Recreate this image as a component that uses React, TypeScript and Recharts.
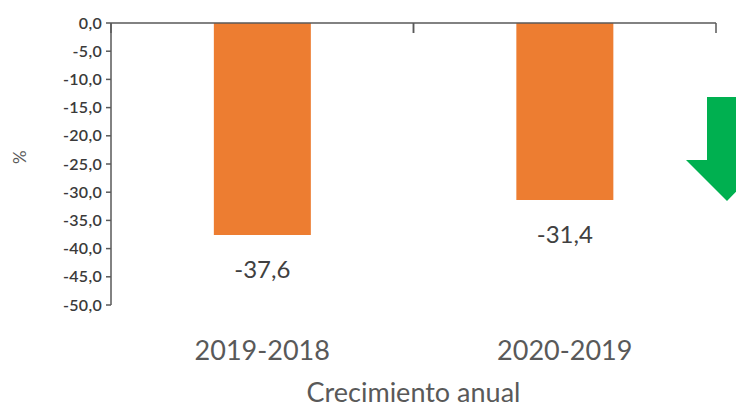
import { BarChart, Bar, XAxis, YAxis, LabelList } from "recharts";

const periods = ["2019-2018", "2020-2019"];
const growth = [-37.6, -31.4];
const yTicks = [0, -5, -10, -15, -20, -25, -30, -35, -40, -45, -50];

const data = periods.map((p, i) => ({ name: p, value: growth[i], zero: 0 }));

const fmt = (v: number) => v.toFixed(1).replace(".", ",");

const font = "Lato, 'Open Sans', sans-serif";

// tick marks at the category boundaries, pointing down from the top axis line
const TopTick = (props: any) => {
  const { x, y, payload } = props;
  const half = payload?.offset ?? 0;
  return (
    <g>
      <line x1={x - half} y1={y} x2={x - half} y2={y + 10} stroke="#595959" strokeWidth={1.5} />
      <line x1={x + half} y1={y} x2={x + half} y2={y + 10} stroke="#595959" strokeWidth={1.5} />
    </g>
  );
};

// value label under the end of each (negative) bar
const BarValue = (props: any) => {
  const { x, y, width, height, value } = props;
  const bottom = Math.max(y, y + height);
  return (
    <text x={x + width / 2} y={bottom + 37} textAnchor="middle" dominantBaseline="middle" fill="#404040" fontSize={24} fontFamily={font}>
      {fmt(Number(value))}
    </text>
  );
};

export default function App() {
  return (
    <div style={{ position: "absolute", left: 0, top: 0, width: 736, height: 416, background: "#fff", overflow: "hidden", fontFamily: font }}>
      <BarChart
        width={736}
        height={416}
        data={data}
        margin={{ top: 21, right: 20, bottom: 0, left: 0 }}
        barCategoryGap="34%"
      >
        <XAxis
          xAxisId="top"
          orientation="top"
          dataKey="name"
          height={2}
          tickSize={0}
          tickMargin={0}
          tick={<TopTick />}
          axisLine={{ stroke: "#595959", strokeWidth: 1.5 }}
          tickLine={false}
        />
        <XAxis
          xAxisId="cat"
          dataKey="name"
          height={111}
          axisLine={false}
          tickLine={false}
          tickMargin={30}
          tick={{ fill: "#595959", fontSize: 27, fontFamily: font }}
          label={{ value: "Crecimiento anual", position: "insideBottom", offset: 14, fill: "#595959", fontSize: 27, fontFamily: font }}
        />
        <YAxis
          domain={[-50, 0]}
          ticks={yTicks}
          interval={0}
          width={111}
          tickFormatter={fmt}
          tick={{ fill: "#3a3a3a", fontSize: 16, fontWeight: 600, fontFamily: font, letterSpacing: 0.3 }}
          tickSize={5}
          tickMargin={4}
          axisLine={{ stroke: "#595959", strokeWidth: 1.5 }}
          tickLine={{ stroke: "#595959", strokeWidth: 1.5 }}
          label={{ value: "%", angle: -90, position: "insideLeft", offset: 20, fill: "#595959", fontSize: 17, fontFamily: font }}
        />
        <Bar dataKey="zero" xAxisId="top" fill="none" isAnimationActive={false} />
        <Bar dataKey="value" xAxisId="cat" fill="#ED7D31" isAnimationActive={false}>
          <LabelList dataKey="value" content={<BarValue />} />
        </Bar>
      </BarChart>
      <svg width={736} height={416} style={{ position: "absolute", left: 0, top: 0, pointerEvents: "none" }}>
        <polygon points="707,97 747,97 747,160 767,160 727,201 686,160 707,160" fill="#00B050" />
      </svg>
    </div>
  );
}
